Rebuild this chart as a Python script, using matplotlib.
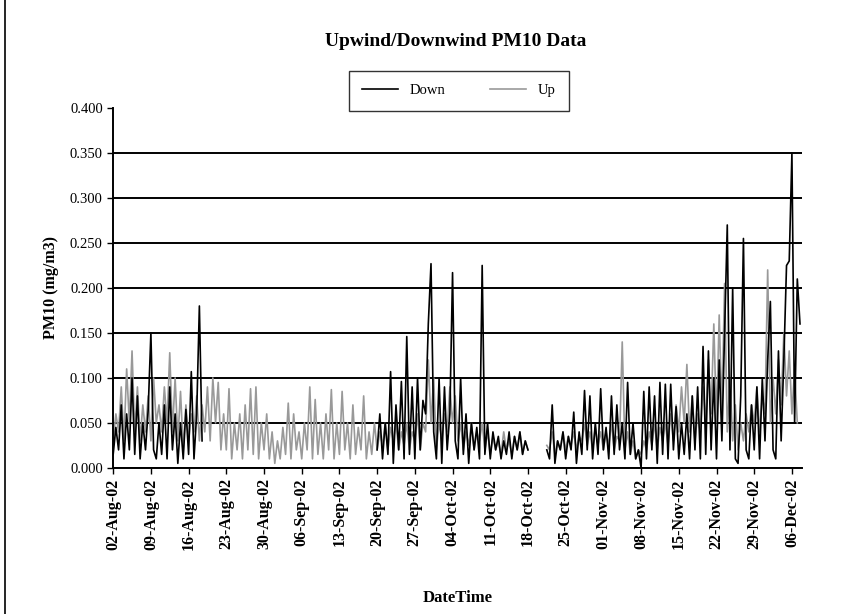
import numpy as np
import pandas as pd
import matplotlib
matplotlib.use('Agg')
import matplotlib.pyplot as plt
import matplotlib.dates as mdates
from matplotlib.lines import Line2D

nan = np.nan

# two readings per day (00:00 and 12:00), 02-Aug-02 .. 07-Dec-02, one line per week
down = [
    0.015, 0.045, 0.02, 0.07, 0.01, 0.06, 0.02, 0.10, 0.015, 0.08, 0.01, 0.05, 0.02, 0.065,
    0.15, 0.02, 0.01, 0.05, 0.015, 0.07, 0.01, 0.09, 0.02, 0.06, 0.005, 0.05, 0.01, 0.065,
    0.015, 0.107, 0.01, 0.06, 0.18, 0.03, nan, nan, nan, nan, nan, nan, nan, nan,
    nan, nan, nan, nan, nan, nan, nan, nan, nan, nan, nan, nan, nan, nan,
    nan, nan, nan, nan, nan, nan, nan, nan, nan, nan, nan, nan, nan, nan,
    nan, nan, nan, nan, nan, nan, nan, nan, nan, nan, nan, nan, nan, nan,
    nan, nan, nan, nan, nan, nan, nan, nan, nan, nan, nan, nan, nan, nan,
    0.02, 0.06, 0.01, 0.05, 0.015, 0.107, 0.005, 0.07, 0.02, 0.096, 0.01, 0.146, 0.015, 0.09,
    0.01, 0.10, 0.02, 0.075, 0.06, 0.16, 0.227, 0.04, 0.01, 0.10, 0.005, 0.09, 0.02, 0.06,
    0.217, 0.03, 0.01, 0.10, 0.015, 0.06, 0.005, 0.05, 0.02, 0.045, 0.01, 0.225, 0.015, 0.05,
    0.01, 0.04, 0.02, 0.035, 0.01, 0.03, 0.015, 0.04, 0.01, 0.035, 0.02, 0.04, 0.015, 0.03,
    0.02, nan, nan, nan, nan, nan, nan, 0.02, 0.01, 0.07, 0.005, 0.03, 0.02, 0.04,
    0.01, 0.035, 0.02, 0.062, 0.005, 0.04, 0.015, 0.086, 0.02, 0.08, 0.01, 0.05, 0.015, 0.088,
    0.02, 0.045, 0.01, 0.08, 0.015, 0.07, 0.02, 0.05, 0.01, 0.095, 0.015, 0.05, 0.01, 0.02,
    0.0, 0.085, 0.01, 0.09, 0.02, 0.08, 0.005, 0.095, 0.015, 0.093, 0.01, 0.093, 0.02, 0.068,
    0.01, 0.05, 0.015, 0.06, 0.01, 0.08, 0.02, 0.09, 0.01, 0.135, 0.015, 0.13, 0.02, 0.10,
    0.01, 0.12, 0.03, 0.15, 0.27, 0.02, 0.20, 0.01, 0.005, 0.08, 0.255, 0.02, 0.01, 0.07,
    0.02, 0.09, 0.01, 0.10, 0.03, 0.12, 0.185, 0.02, 0.01, 0.13, 0.03, 0.12, 0.225, 0.23,
    0.35, 0.05, 0.21, 0.16,
]

up = [
    0.03, 0.06, 0.04, 0.09, 0.03, 0.11, 0.05, 0.13, 0.04, 0.09, 0.03, 0.07, 0.04, 0.08,
    0.03, 0.10, 0.05, 0.07, 0.04, 0.09, 0.05, 0.128, 0.04, 0.10, 0.03, 0.085, 0.02, 0.07,
    0.03, 0.06, 0.04, 0.08, 0.03, 0.07, 0.04, 0.09, 0.03, 0.10, 0.05, 0.095, 0.02, 0.06,
    0.02, 0.088, 0.01, 0.05, 0.02, 0.06, 0.01, 0.07, 0.02, 0.088, 0.015, 0.09, 0.01, 0.05,
    0.02, 0.06, 0.01, 0.04, 0.005, 0.03, 0.01, 0.045, 0.015, 0.072, 0.01, 0.06, 0.02, 0.04,
    0.01, 0.05, 0.02, 0.09, 0.01, 0.076, 0.015, 0.05, 0.01, 0.06, 0.02, 0.087, 0.01, 0.05,
    0.015, 0.085, 0.02, 0.05, 0.01, 0.07, 0.015, 0.045, 0.02, 0.08, 0.01, 0.04, 0.015, 0.05,
    0.02, 0.04, 0.025, 0.05, 0.02, 0.045, 0.03, 0.05, 0.02, 0.04, 0.025, 0.05, 0.02, 0.04,
    0.03, 0.06, 0.02, 0.05, 0.04, 0.12, 0.05, 0.10, 0.02, 0.05, 0.03, 0.06, 0.04, 0.09,
    0.05, 0.08, 0.03, 0.05, 0.02, 0.04, 0.025, 0.05, 0.02, 0.04, 0.03, 0.05, 0.02, 0.04,
    0.015, 0.035, 0.02, 0.03, 0.015, 0.04, 0.02, 0.03, 0.015, 0.035, 0.02, 0.04, 0.015, 0.03,
    0.02, nan, nan, nan, nan, nan, nan, 0.025, 0.02, 0.04, 0.015, 0.03, 0.02, 0.04,
    0.02, 0.035, 0.025, 0.04, 0.02, 0.035, 0.03, 0.05, 0.025, 0.04, 0.02, 0.045, 0.025, 0.04,
    0.02, 0.04, 0.025, 0.05, 0.02, 0.035, 0.03, 0.14, 0.02, 0.04, 0.015, 0.03, 0.01, 0.02,
    0.015, 0.03, 0.02, 0.04, 0.025, 0.05, 0.02, 0.045, 0.03, 0.05, 0.025, 0.06, 0.03, 0.07,
    0.04, 0.09, 0.05, 0.115, 0.04, 0.08, 0.03, 0.06, 0.04, 0.09, 0.05, 0.12, 0.06, 0.16,
    0.05, 0.17, 0.06, 0.205, 0.04, 0.10, 0.03, 0.07, 0.02, 0.05, 0.03, 0.06, 0.04, 0.07,
    0.05, 0.09, 0.04, 0.08, 0.06, 0.22, 0.05, 0.10, 0.06, 0.12, 0.07, 0.15, 0.08, 0.13,
    0.06, 0.11, 0.05, nan,
]

times = pd.date_range('2002-08-02', periods=len(down), freq='12h')
tick_dates = pd.date_range('2002-08-02', '2002-12-06', freq='7D')

plt.rcParams['font.family'] = ['Liberation Serif', 'DejaVu Serif']

fig = plt.figure(figsize=(8.64, 6.14), dpi=100)
ax = fig.add_axes([0.131, 0.238, 0.797, 0.586])

ax.plot(times, down, color='black', linewidth=1.2, label='Down', zorder=3)
ax.plot(times, up, color='#999999', linewidth=1.2, label='Up', zorder=2)

ax.set_ylim(0, 0.4)
ax.set_yticks(np.arange(0, 0.401, 0.05))
ax.yaxis.set_major_formatter(plt.FuncFormatter(lambda v, p: '%.3f' % v))
ax.set_xlim(pd.Timestamp('2002-08-02'), pd.Timestamp('2002-12-07 20:00'))
ax.set_xticks(tick_dates)
ax.xaxis.set_major_formatter(mdates.DateFormatter('%d-%b-%y'))
plt.setp(ax.get_xticklabels(), rotation=90, fontsize=11.5, fontweight='bold')
plt.setp(ax.get_yticklabels(), fontsize=10.5)

ax.grid(axis='y', color='black', linewidth=1.4)
ax.get_ygridlines()[-1].set_visible(False)
ax.set_axisbelow(True)
ax.spines['top'].set_visible(False)
ax.spines['right'].set_visible(False)
ax.spines['left'].set_linewidth(1.4)
ax.spines['bottom'].set_linewidth(1.4)
ax.tick_params(direction='out', length=4, width=1)

ax.set_ylabel('PM10 (mg/m3)', fontsize=11.5, fontweight='bold', labelpad=8)
ax.set_xlabel('DateTime', fontsize=12, fontweight='bold', labelpad=29)
fig.text(0.527, 0.932, 'Upwind/Downwind PM10 Data', ha='center', va='center',
         fontsize=14, fontweight='bold')

fig.legend(loc='center', bbox_to_anchor=(0.531, 0.852), ncol=2, frameon=True,
           fancybox=False, edgecolor='black', fontsize=10.5, handlelength=2.5,
           columnspacing=3, borderpad=0.9)

fig.add_artist(Line2D([0.006, 0.006], [0, 1], color='black', linewidth=1.2))

plt.savefig('out.png', dpi=100)
